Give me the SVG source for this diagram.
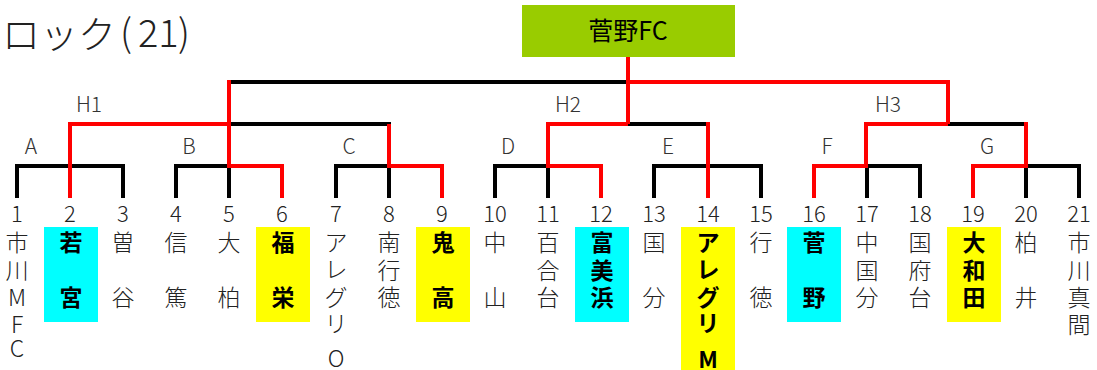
<svg xmlns="http://www.w3.org/2000/svg" width="1097" height="370" viewBox="0 0 1097 370">
<style>
.k{stroke:#000;stroke-width:4;fill:none;stroke-linejoin:miter}
.r{stroke:#f00;stroke-width:4;fill:none;stroke-linejoin:miter}
text{font-family:"Noto Sans CJK JP","Noto Sans",sans-serif;fill:#222;font-weight:300}
.lbl{font-size:21px;text-anchor:middle;fill:#333}
.num{font-size:22px;text-anchor:middle}
.nm{font-size:23px;text-anchor:middle}
.hl{font-weight:bold;fill:#000}
.cy{fill:#00ffff}
.ye{fill:#ffff00}
.tt{font-size:38px}
</style>
<rect width="1097" height="370" fill="#fff"/>
<g id="title">
<text class="tt" x="2" y="48">ロック</text>
<text class="tt" x="120" y="47">(</text>
<text class="tt" x="138" y="47">21</text>
<text class="tt" x="178" y="47">)</text>
</g>
<g id="champion">
<rect x="522" y="5" width="213" height="52" fill="#99cc00"/>
<text x="628" y="40" style="font-size:25px;text-anchor:middle;fill:#000;font-weight:normal">菅野FC</text>
</g>
<g id="connectors">
<path class="k" d="M17,198V166H123V198"/>
<path class="k" d="M176,198V166H231M229,166V198"/>
<path class="k" d="M336,198V166H391M389,166V198"/>
<path class="k" d="M227,124H391"/>
<path class="k" d="M227,82H628"/>
<path class="k" d="M495,198V166H550M548,166V198"/>
<path class="k" d="M626,124H710"/>
<path class="k" d="M654,198V166H761V198"/>
<path class="k" d="M865,166H920V198M867,166V198"/>
<path class="k" d="M946,124H1028"/>
<path class="k" d="M1024,166H1079V198M1026,166V198"/>
<path class="r" d="M70,198V124H229"/>
<path class="r" d="M282,198V166H229V80"/>
<path class="r" d="M442,198V166H389V124"/>
<path class="r" d="M601,198V166H548V124H628"/>
<path class="r" d="M628,57V124"/>
<path class="r" d="M628,82H948V124"/>
<path class="r" d="M708,198V122"/>
<path class="r" d="M814,198V166H866V124H948"/>
<path class="r" d="M973,198V166H1026V122"/>
</g>
<g id="round-labels">
<text class="lbl" x="89" y="112">H1</text>
<text class="lbl" x="568" y="112">H2</text>
<text class="lbl" x="888" y="112">H3</text>
<text class="lbl" x="31" y="154">A</text>
<text class="lbl" x="189" y="154">B</text>
<text class="lbl" x="349" y="154">C</text>
<text class="lbl" x="508" y="154">D</text>
<text class="lbl" x="668" y="154">E</text>
<text class="lbl" x="827" y="154">F</text>
<text class="lbl" x="987" y="154">G</text>
</g>
<g id="t1"><text class="num" x="17" y="222">1</text><text class="nm" x="17"><tspan x="17" y="251">市</tspan><tspan x="17" y="279">川</tspan><tspan x="17" y="306">M</tspan><tspan x="17" y="333">F</tspan><tspan x="17" y="357">C</tspan></text></g>
<g id="t2"><rect class="cy" x="44" y="227" width="54" height="95"/><text class="num" x="70" y="222">2</text><text class="nm hl"><tspan x="71" y="251">若</tspan><tspan x="71" y="306">宮</tspan></text></g>
<g id="t3"><text class="num" x="123" y="222">3</text><text class="nm"><tspan x="123" y="251">曽</tspan><tspan x="123" y="306">谷</tspan></text></g>
<g id="t4"><text class="num" x="176" y="222">4</text><text class="nm"><tspan x="176" y="251">信</tspan><tspan x="176" y="306">篤</tspan></text></g>
<g id="t5"><text class="num" x="229" y="222">5</text><text class="nm"><tspan x="229" y="251">大</tspan><tspan x="229" y="306">柏</tspan></text></g>
<g id="t6"><rect class="ye" x="256" y="227" width="54" height="95"/><text class="num" x="282" y="222">6</text><text class="nm hl"><tspan x="283" y="251">福</tspan><tspan x="283" y="306">栄</tspan></text></g>
<g id="t7"><text class="num" x="336" y="222">7</text><text class="nm"><tspan x="336" y="251">ア</tspan><tspan x="336" y="278">レ</tspan><tspan x="336" y="306">グ</tspan><tspan x="336" y="332">リ</tspan><tspan x="336" y="367">O</tspan></text></g>
<g id="t8"><text class="num" x="389" y="222">8</text><text class="nm"><tspan x="389" y="251">南</tspan><tspan x="389" y="279">行</tspan><tspan x="389" y="306">徳</tspan></text></g>
<g id="t9"><rect class="ye" x="416" y="227" width="54" height="95"/><text class="num" x="442" y="222">9</text><text class="nm hl"><tspan x="443" y="251">鬼</tspan><tspan x="443" y="306">高</tspan></text></g>
<g id="t10"><text class="num" x="495" y="222">10</text><text class="nm"><tspan x="495" y="251">中</tspan><tspan x="495" y="306">山</tspan></text></g>
<g id="t11"><text class="num" x="548" y="222">11</text><text class="nm"><tspan x="548" y="251">百</tspan><tspan x="548" y="279">合</tspan><tspan x="548" y="306">台</tspan></text></g>
<g id="t12"><rect class="cy" x="575" y="227" width="54" height="95"/><text class="num" x="601" y="222">12</text><text class="nm hl"><tspan x="602" y="251">富</tspan><tspan x="602" y="279">美</tspan><tspan x="602" y="306">浜</tspan></text></g>
<g id="t13"><text class="num" x="654" y="222">13</text><text class="nm"><tspan x="654" y="251">国</tspan><tspan x="654" y="306">分</tspan></text></g>
<g id="t14"><rect class="ye" x="681" y="227" width="54" height="143"/><text class="num" x="708" y="222">14</text><text class="nm hl"><tspan x="708" y="251">ア</tspan><tspan x="708" y="278">レ</tspan><tspan x="708" y="306">グ</tspan><tspan x="708" y="332">リ</tspan><tspan x="708" y="368">M</tspan></text></g>
<g id="t15"><text class="num" x="761" y="222">15</text><text class="nm"><tspan x="761" y="251">行</tspan><tspan x="761" y="306">徳</tspan></text></g>
<g id="t16"><rect class="cy" x="787" y="227" width="54" height="95"/><text class="num" x="814" y="222">16</text><text class="nm hl"><tspan x="814" y="251">菅</tspan><tspan x="814" y="306">野</tspan></text></g>
<g id="t17"><text class="num" x="867" y="222">17</text><text class="nm"><tspan x="867" y="251">中</tspan><tspan x="867" y="279">国</tspan><tspan x="867" y="306">分</tspan></text></g>
<g id="t18"><text class="num" x="920" y="222">18</text><text class="nm"><tspan x="920" y="251">国</tspan><tspan x="920" y="279">府</tspan><tspan x="920" y="306">台</tspan></text></g>
<g id="t19"><rect class="ye" x="947" y="227" width="54" height="95"/><text class="num" x="973" y="222">19</text><text class="nm hl"><tspan x="974" y="251">大</tspan><tspan x="974" y="279">和</tspan><tspan x="974" y="306">田</tspan></text></g>
<g id="t20"><text class="num" x="1026" y="222">20</text><text class="nm"><tspan x="1026" y="251">柏</tspan><tspan x="1026" y="306">井</tspan></text></g>
<g id="t21"><text class="num" x="1079" y="222">21</text><text class="nm"><tspan x="1079" y="251">市</tspan><tspan x="1079" y="279">川</tspan><tspan x="1079" y="306">真</tspan><tspan x="1079" y="333">間</tspan></text></g>
</svg>
